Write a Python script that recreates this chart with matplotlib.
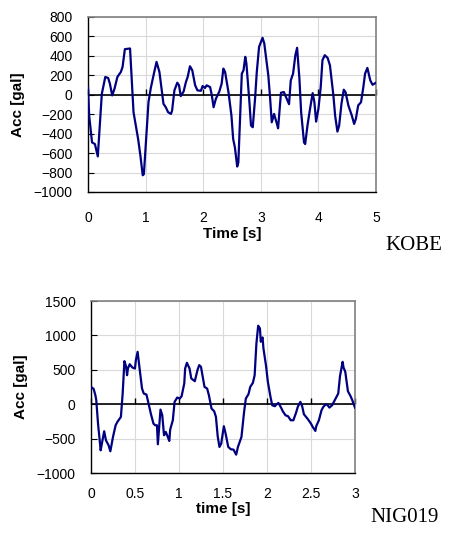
import matplotlib
matplotlib.use("Agg")
import matplotlib.pyplot as plt
from matplotlib.ticker import FormatStrFormatter

plt.rcParams['font.family'] = ['Liberation Sans', 'DejaVu Sans']

# KOBE record (time s, acc gal)
kobe_t = [0, 0.02, 0.07, 0.12, 0.17, 0.24, 0.30, 0.35, 0.38, 0.42, 0.46, 0.51, 0.57, 0.60,
          0.64, 0.73, 0.79, 0.87, 0.91, 0.95, 0.97, 1.05, 1.09, 1.15, 1.19, 1.24, 1.31,
          1.35, 1.39, 1.44, 1.46, 1.50, 1.55, 1.58, 1.61, 1.66, 1.70, 1.73, 1.77, 1.81,
          1.86, 1.90, 1.96, 1.99, 2.03, 2.06, 2.12, 2.15, 2.18, 2.22, 2.28, 2.32, 2.35,
          2.38, 2.44, 2.49, 2.52, 2.55, 2.59, 2.61, 2.67, 2.70, 2.73, 2.75, 2.80, 2.83,
          2.86, 2.90, 2.93, 2.97, 3.03, 3.06, 3.13, 3.16, 3.19, 3.23, 3.28, 3.30, 3.35,
          3.40, 3.45, 3.49, 3.52, 3.56, 3.60, 3.63, 3.67, 3.70, 3.75, 3.77, 3.81, 3.85,
          3.90, 3.93, 3.96, 4.00, 4.04, 4.07, 4.11, 4.16, 4.20, 4.26, 4.29, 4.33, 4.36,
          4.40, 4.44, 4.47, 4.52, 4.58, 4.62, 4.65, 4.69, 4.74, 4.78, 4.81, 4.85, 4.90,
          4.94, 5.00]
kobe_acc = [79, -214, -490, -507, -634, 10, 183, 172, 114, -7, 62, 183, 234, 286,
            469, 476, -179, -455, -628, -828, -817, -76, 69, 234, 338, 234, -93,
            -128, -179, -197, -162, 45, 124, 97, -14, 34, 131, 183, 293, 252,
            97, 45, 41, 90, 69, 97, 79, -7, -128, -41, 34, 114, 269,
            234, 21, -214, -455, -541, -738, -697, 217, 252, 390, 321, -59, -317,
            -334, -41, 234, 493, 586, 528, 200, -24, -283, -197, -300, -345, 21,
            28, -41, -97, 148, 217, 407, 483, 166, -179, -490, -507, -317, -162,
            17, -76, -276, -145, 79, 355, 407, 379, 303, -7, -214, -379, -317,
            -93, 52, 28, -110, -214, -300, -248, -110, -76, 79, 217, 276, 148,
            103, 124]

# NIG019 record
nig_t = [0, 0.03, 0.05, 0.06, 0.08, 0.11, 0.12, 0.15, 0.17, 0.20, 0.22, 0.25, 0.28, 0.30,
         0.34, 0.36, 0.38, 0.40, 0.41, 0.42, 0.44, 0.47, 0.50, 0.51, 0.53, 0.55, 0.58,
         0.60, 0.63, 0.65, 0.68, 0.71, 0.73, 0.75, 0.76, 0.79, 0.81, 0.83, 0.85, 0.87,
         0.89, 0.90, 0.93, 0.95, 0.98, 1.01, 1.03, 1.06, 1.07, 1.09, 1.12, 1.14, 1.18,
         1.21, 1.23, 1.25, 1.27, 1.29, 1.32, 1.34, 1.37, 1.40, 1.42, 1.44, 1.46, 1.48,
         1.51, 1.53, 1.56, 1.59, 1.62, 1.65, 1.67, 1.71, 1.74, 1.76, 1.79, 1.81, 1.84,
         1.86, 1.88, 1.90, 1.92, 1.93, 1.95, 1.96, 1.99, 2.01, 2.04, 2.06, 2.09, 2.11,
         2.13, 2.16, 2.18, 2.21, 2.24, 2.27, 2.30, 2.33, 2.35, 2.38, 2.40, 2.42, 2.46,
         2.50, 2.52, 2.55, 2.56, 2.59, 2.62, 2.64, 2.67, 2.69, 2.71, 2.74, 2.77, 2.81,
         2.83, 2.86, 2.87, 2.89, 2.92, 2.95, 2.97, 3.00]
nig_acc = [252, 223, 131, 58, -282, -670, -597, -393, -524, -597, -684, -476, -306, -257,
           -184, 155, 626, 544, 422, 519, 582, 534, 519, 641, 762, 544, 228,
           155, 141, 34, -136, -282, -306, -306, -582, -78, -160, -451, -403, -466,
           -534, -369, -233, 34, 97, 83, 117, 301, 519, 602, 519, 374, 335,
           495, 568, 544, 398, 252, 228, 131, -63, -102, -184, -466, -621, -573,
           -320, -427, -621, -655, -660, -733, -621, -476, -112, 83, 146, 252, 311,
           422, 883, 1141, 1102, 908, 971, 811, 553, 325, 107, -15, -29, 0,
           19, -49, -102, -160, -175, -233, -233, -126, -39, 34, -29, -146, -209,
           -282, -330, -388, -320, -233, -87, -39, 0, -15, -49, -15, 58, 155,
           408, 616, 534, 471, 189, 117, 58, -49]

fig = plt.figure(figsize=(4.52, 5.39), dpi=100)


def draw(rect, t, acc, xlim, ylim, xticks, yticks, xlabel, tag, xlab_pad, tag_xy):
    ax = fig.add_axes(rect)
    # zero axis with small upward ticks, Excel style
    ax.axhline(0, color='black', lw=1.2, zorder=2)
    ax.plot(xticks, [0] * len(xticks), ls='none', marker=2, ms=4, mew=1,
            color='black', zorder=2, clip_on=False)
    ax.plot(t, acc, color='#000080', lw=1.6, zorder=3)
    ax.set_xlim(*xlim)
    ax.set_ylim(*ylim)
    ax.set_xticks(xticks)
    ax.set_yticks(yticks)
    ax.xaxis.set_major_formatter(FormatStrFormatter('%g'))
    ax.grid(True, color='#d9d9d9', lw=0.8)
    ax.set_axisbelow(True)
    ax.tick_params(axis='y', direction='in', length=4, pad=11, labelsize=10)
    ax.tick_params(axis='x', length=0, pad=xlab_pad, labelsize=10)
    for s in ['left', 'bottom']:
        ax.spines[s].set_color('#000000')
        ax.spines[s].set_linewidth(1.0)
    for s in ['top', 'right']:
        ax.spines[s].set_color('#808080')
        ax.spines[s].set_linewidth(1.2)
    ax.set_xlabel(xlabel, fontsize=11, fontweight='bold', labelpad=1)
    ax.set_ylabel('Acc [gal]', fontsize=11, fontweight='bold', labelpad=6)
    fig.text(tag_xy[0], tag_xy[1], tag, fontsize=15,
             family=['Liberation Serif', 'DejaVu Serif'], ha='left', va='center')
    return ax


draw([0.1947, 0.6438, 0.6372, 0.3247], kobe_t, kobe_acc, (0, 5), (-1000, 800),
     [0, 1, 2, 3, 4, 5], list(range(-1000, 801, 200)), 'Time [s]', 'KOBE', 14,
     (385 / 452, 1 - 245 / 539))
draw([0.2013, 0.1224, 0.5840, 0.3191], nig_t, nig_acc, (0, 3), (-1000, 1500),
     [0, 0.5, 1, 1.5, 2, 2.5, 3], list(range(-1000, 1501, 500)), 'time [s]', 'NIG019', 10,
     (370 / 452, 1 - 518 / 539))

fig.savefig('out.png', dpi=100)
